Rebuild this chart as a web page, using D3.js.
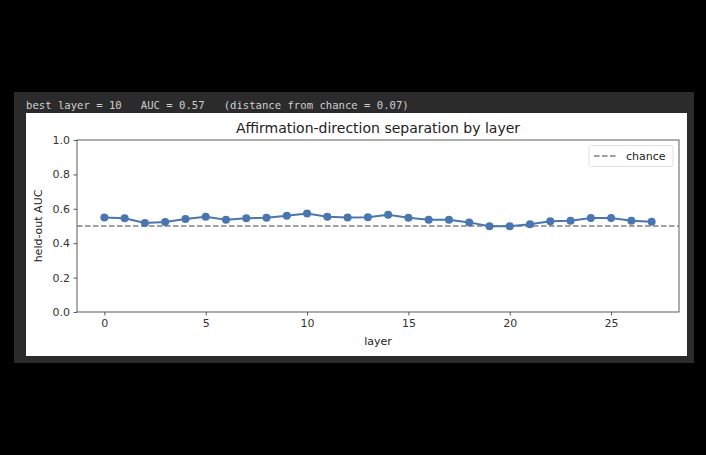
<!DOCTYPE html>
<html><head><meta charset="utf-8">
<script src="https://cdn.jsdelivr.net/npm/d3@7"></script>
<style>body{margin:0;background:#000;}svg{display:block;}</style>
</head><body>
<svg id="c" width="706" height="455"></svg>
<script>
const layers = d3.range(0, 28);
const auc = [0.55,0.545,0.517,0.523,0.541,0.554,0.537,0.545,0.548,0.56,0.572,0.554,0.55,0.551,0.566,0.548,0.537,0.537,0.521,0.498,0.498,0.51,0.527,0.531,0.546,0.546,0.531,0.525];
const chance = 0.5;
const xTicks = [0,5,10,15,20,25];
const yTicks = [0.0,0.2,0.4,0.6,0.8,1.0];
const headerText = "best layer = 10   AUC = 0.57   (distance from chance = 0.07)";
const titleText = "Affirmation-direction separation by layer";

const svg = d3.select("#c");
svg.append("rect").attr("x",14).attr("y",92).attr("width",680).attr("height",271).attr("fill","#2b2b2b");
svg.append("rect").attr("x",26).attr("y",113).attr("width",661).attr("height",243).attr("fill","#fff");
svg.append("text").attr("x",26).attr("y",109).attr("fill","#d0d0d0")
  .attr("font-family","DejaVu Sans Mono").attr("font-size",10.6).attr("xml:space","preserve")
  .style("white-space","pre").text(headerText);

const L=77,R=679,T=140,B=312;
const x = d3.scaleLinear().domain([-1.35,28.35]).range([L,R]);
const y = d3.scaleLinear().domain([0,1]).range([B,T]);
const font = "DejaVu Sans";

const gx = svg.append("g").attr("transform",`translate(0,${B})`)
  .call(d3.axisBottom(x).tickValues(xTicks).tickSize(3.5).tickPadding(3.5).tickFormat(d3.format("d")));
const gy = svg.append("g").attr("transform",`translate(${L},0)`)
  .call(d3.axisLeft(y).tickValues(yTicks).tickSize(3.5).tickPadding(3.5).tickFormat(d3.format(".1f")));
[gx,gy].forEach(g=>{
  g.select(".domain").remove();
  g.selectAll("line").attr("stroke","#333").attr("stroke-width",0.8);
  g.selectAll("text").attr("font-family",font).attr("font-size",11).attr("fill","#333");
});
svg.append("rect").attr("x",L).attr("y",T).attr("width",R-L).attr("height",B-T)
  .attr("fill","none").attr("stroke","#333").attr("stroke-width",0.8);

svg.append("line").attr("x1",L).attr("x2",R).attr("y1",y(chance)).attr("y2",y(chance))
  .attr("stroke","#808080").attr("stroke-width",1.5).attr("stroke-dasharray","5.5,2.5");

const line = d3.line().x((d,i)=>x(layers[i])).y(d=>y(d));
svg.append("path").datum(auc).attr("d",line).attr("fill","none").attr("stroke","#4a76b0").attr("stroke-width",2);
svg.selectAll("circle.p").data(auc).join("circle").attr("class","p")
  .attr("cx",(d,i)=>x(layers[i])).attr("cy",d=>y(d)).attr("r",4).attr("fill","#4a76b0");

svg.append("text").attr("x",(L+R)/2).attr("y",133).attr("text-anchor","middle")
  .attr("font-family",font).attr("font-size",14).attr("fill","#222").text(titleText);
svg.append("text").attr("x",(L+R)/2).attr("y",345).attr("text-anchor","middle")
  .attr("font-family",font).attr("font-size",11).attr("fill","#222").text("layer");
svg.append("text").attr("transform",`translate(42,${(T+B)/2}) rotate(-90)`).attr("text-anchor","middle")
  .attr("font-family",font).attr("font-size",11).attr("fill","#222").text("held-out AUC");

// legend
svg.append("rect").attr("x",589).attr("y",145.5).attr("width",84).attr("height",21).attr("rx",2.5)
  .attr("fill","#fff").attr("stroke","#d8d8d8").attr("stroke-width",0.8);
svg.append("line").attr("x1",594).attr("x2",616).attr("y1",156).attr("y2",156)
  .attr("stroke","#808080").attr("stroke-width",1.5).attr("stroke-dasharray","5.5,2.5");
svg.append("text").attr("x",626).attr("y",160).attr("font-family",font).attr("font-size",11)
  .attr("fill","#222").text("chance");
</script>
</body></html>
